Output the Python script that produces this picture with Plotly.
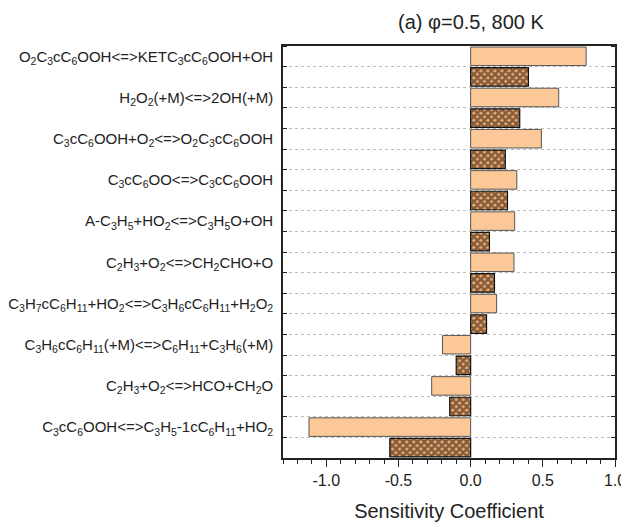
import plotly.graph_objects as go

categories = [
    "O<sub>2</sub>C<sub>3</sub>cC<sub>6</sub>OOH&lt;=&gt;KETC<sub>3</sub>cC<sub>6</sub>OOH+OH",
    "H<sub>2</sub>O<sub>2</sub>(+M)&lt;=&gt;2OH(+M)",
    "C<sub>3</sub>cC<sub>6</sub>OOH+O<sub>2</sub>&lt;=&gt;O<sub>2</sub>C<sub>3</sub>cC<sub>6</sub>OOH",
    "C<sub>3</sub>cC<sub>6</sub>OO&lt;=&gt;C<sub>3</sub>cC<sub>6</sub>OOH",
    "A-C<sub>3</sub>H<sub>5</sub>+HO<sub>2</sub>&lt;=&gt;C<sub>3</sub>H<sub>5</sub>O+OH",
    "C<sub>2</sub>H<sub>3</sub>+O<sub>2</sub>&lt;=&gt;CH<sub>2</sub>CHO+O",
    "C<sub>3</sub>H<sub>7</sub>cC<sub>6</sub>H<sub>11</sub>+HO<sub>2</sub>&lt;=&gt;C<sub>3</sub>H<sub>6</sub>cC<sub>6</sub>H<sub>11</sub>+H<sub>2</sub>O<sub>2</sub>",
    "C<sub>3</sub>H<sub>6</sub>cC<sub>6</sub>H<sub>11</sub>(+M)&lt;=&gt;C<sub>6</sub>H<sub>11</sub>+C<sub>3</sub>H<sub>6</sub>(+M)",
    "C<sub>2</sub>H<sub>3</sub>+O<sub>2</sub>&lt;=&gt;HCO+CH<sub>2</sub>O",
    "C<sub>3</sub>cC<sub>6</sub>OOH&lt;=&gt;C<sub>3</sub>H<sub>5</sub>-1cC<sub>6</sub>H<sub>11</sub>+HO<sub>2</sub>",
]
orange_values = [0.80, 0.61, 0.49, 0.32, 0.305, 0.30, 0.18, -0.195, -0.27, -1.12]
hatched_values = [0.40, 0.34, 0.24, 0.255, 0.13, 0.165, 0.11, -0.10, -0.145, -0.56]
x_tickvals = [-1.0, -0.5, 0.0, 0.5, 1.0]
x_ticktext = ["-1.0", "-0.5", "0.0", "0.5", "1.0"]

n = len(categories)
orange_pos = [2 * i + 0.5 for i in range(n)]
hatched_pos = [2 * i + 1.5 for i in range(n)]

fig = go.Figure()
fig.add_trace(go.Bar(
    x=orange_values, y=orange_pos, orientation="h", width=0.9,
    marker=dict(color="#fdc897", line=dict(color="#555555", width=1)),
    showlegend=False, yaxis="y",
))
fig.add_trace(go.Bar(
    x=hatched_values, y=hatched_pos, orientation="h", width=0.9,
    marker=dict(color="#eaa46c", line=dict(color="#111111", width=1.2),
                pattern=dict(shape="x", fgcolor="#170d05", bgcolor="#eeab72",
                             size=5, solidity=0.72, fillmode="overlay")),
    showlegend=False, yaxis="y2",
))

font_family = "Liberation Sans, Arial, sans-serif"
fig.update_layout(
    width=621, height=517,
    margin=dict(l=275, r=14, t=38, b=67, autoexpand=False),
    paper_bgcolor="white", plot_bgcolor="white",
    barmode="overlay",
    font=dict(family=font_family, color="#222222"),
    xaxis=dict(
        range=[-1.3, 1.0], tickvals=x_tickvals, ticktext=x_ticktext,
        ticks="outside", ticklen=7, tickwidth=1.2, tickcolor="#222",
        minor=dict(dtick=0.1, tick0=0, ticks="outside", ticklen=4, tickcolor="#222", showgrid=False),
        showline=True, linecolor="#222", linewidth=1.6, mirror=True,
        showgrid=False, zeroline=False,
        tickfont=dict(size=16),
        title=dict(text="Sensitivity Coefficient", font=dict(size=20), standoff=16),
    ),
    yaxis=dict(
        range=[20, 0], tickvals=orange_pos, ticktext=categories,
        ticks="", showline=True, linecolor="#222", linewidth=1.6, mirror=True,
        showgrid=False, zeroline=False, ticklabelstandoff=5,
        tickfont=dict(size=15),
        minor=dict(tick0=0, dtick=1, ticks="inside", ticklen=4, tickcolor="#222",
                   showgrid=True, gridcolor="#bbbbbb", griddash="dot", gridwidth=1),
    ),
    yaxis2=dict(
        range=[20, 0], overlaying="y", side="right", anchor="x",
        showticklabels=False, ticks="", showgrid=False, zeroline=False,
        tickvals=orange_pos,
        minor=dict(tick0=0, dtick=1, ticks="inside", ticklen=4, tickcolor="#222", showgrid=False),
    ),
    annotations=[dict(
        text="(a) φ=0.5, 800 K", x=0.0, xref="x", y=1.0, yref="paper",
        yshift=24, showarrow=False, font=dict(size=20), xanchor="center", yanchor="middle",
    )],
)

fig.write_html("out.html")
